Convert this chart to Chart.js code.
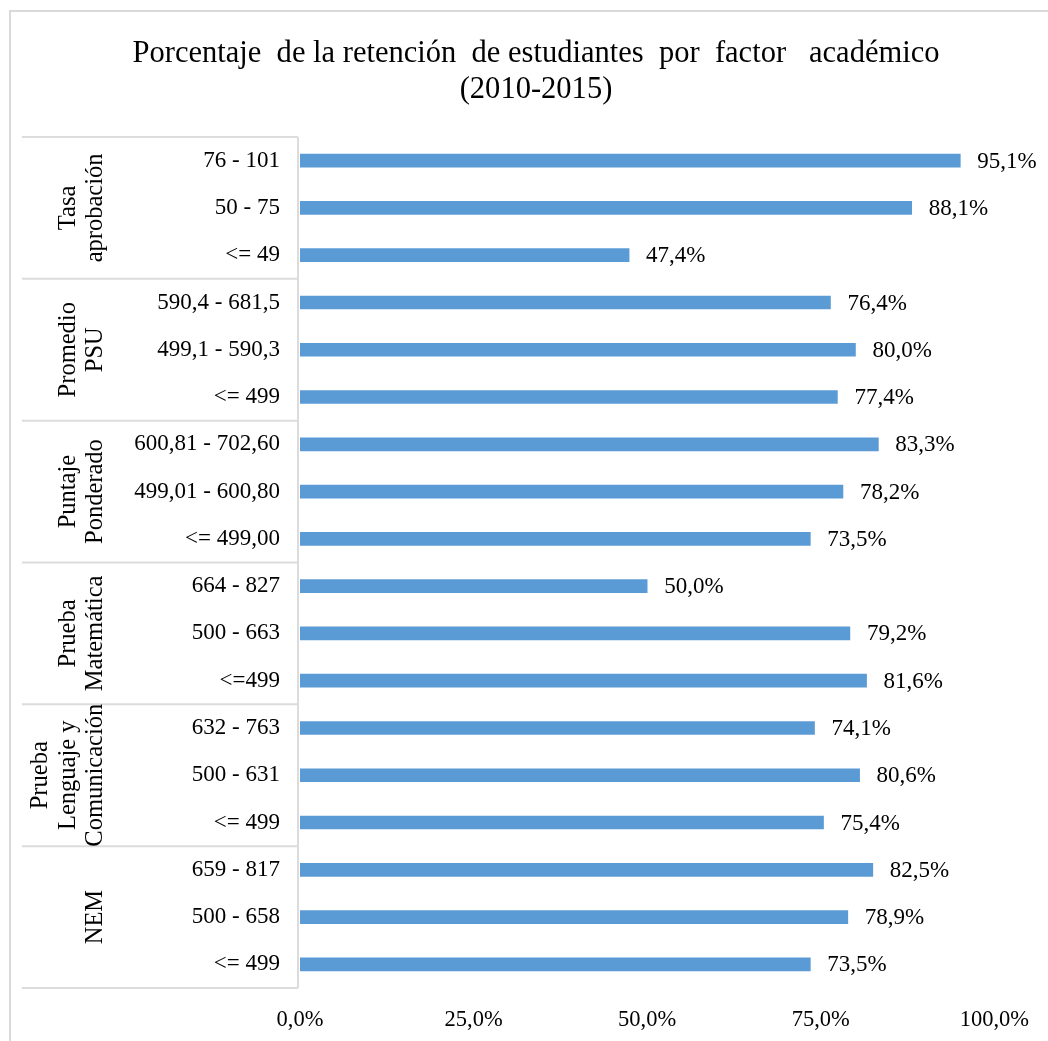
<!DOCTYPE html>
<html>
<head>
<meta charset="utf-8">
<script src="https://cdn.jsdelivr.net/npm/chart.js@4/dist/chart.umd.min.js"></script>
<style>
  html, body { margin: 0; padding: 0; background: #ffffff; }
  #wrap { width: 1048px; height: 1041px; position: relative; }
</style>
</head>
<body>
<div id="wrap"><canvas id="c" width="1048" height="1041"></canvas></div>
<script>
// ---- Data ----
const titleLines = ["Porcentaje  de la retención  de estudiantes  por  factor   académico", "(2010-2015)"];
const categories = ["76 - 101", "50 - 75", "<= 49",
                    "590,4 - 681,5", "499,1 - 590,3", "<= 499",
                    "600,81 - 702,60", "499,01 - 600,80", "<= 499,00",
                    "664 - 827", "500 - 663", "<=499",
                    "632 - 763", "500 - 631", "<= 499",
                    "659 - 817", "500 - 658", "<= 499"];
const values = [95.1, 88.1, 47.4,
                76.4, 80.0, 77.4,
                83.3, 78.2, 73.5,
                50.0, 79.2, 81.6,
                74.1, 80.6, 75.4,
                82.5, 78.9, 73.5];
const groupLabels = [["Tasa", "aprobación"], ["Promedio", "PSU"], ["Puntaje", "Ponderado"],
                     ["Prueba", "Matemática"], ["Prueba", "Lenguaje y", "Comunicación"], ["NEM"]];
const groupSizes = [3, 3, 3, 3, 3, 3];
const xTicks = [0, 25, 50, 75, 100];

const SERIF = '"Liberation Serif", "Times New Roman", serif';
const fmt = v => v.toFixed(1).replace('.', ',') + '%';

const decorPlugin = {
  id: 'decor',
  beforeDraw(chart) {
    const ctx = chart.ctx;
    ctx.save();
    ctx.fillStyle = '#ffffff';
    ctx.fillRect(0, 0, chart.width, chart.height);
    // outer chart border
    ctx.strokeStyle = '#d9d9d9';
    ctx.lineWidth = 2;
    ctx.beginPath();
    ctx.moveTo(10, chart.height);
    ctx.lineTo(10, 11);
    ctx.lineTo(chart.width, 11);
    ctx.stroke();
    // title
    ctx.fillStyle = '#000000';
    ctx.font = '32px ' + SERIF;
    ctx.textAlign = 'center';
    ctx.textBaseline = 'alphabetic';
    const w1 = ctx.measureText(titleLines[0]).width;
    const sx = Math.min(1, 807 / w1);
    const baselines = [62, 98];
    titleLines.forEach((t, i) => {
      ctx.save();
      ctx.translate(536, baselines[i]);
      ctx.scale(sx, 1);
      ctx.fillText(t, 0, 0);
      ctx.restore();
    });
    ctx.restore();
  },
  afterDraw(chart) {
    const ctx = chart.ctx;
    const y = chart.scales.y;
    const area = chart.chartArea;
    const half = (y.getPixelForValue(1) - y.getPixelForValue(0)) / 2;
    ctx.save();
    ctx.strokeStyle = '#dcdcdc';
    ctx.lineWidth = 2;
    const lineLeft = 22, lineRight = area.left - 2;
    // vertical divider
    ctx.beginPath();
    ctx.moveTo(lineRight, area.top);
    ctx.lineTo(lineRight, area.bottom);
    ctx.stroke();
    // horizontal group separators
    let start = 0;
    const bounds = [y.getPixelForValue(0) - half];
    groupSizes.forEach(n => { start += n; bounds.push(y.getPixelForValue(start - 1) + half); });
    bounds.forEach(b => {
      ctx.beginPath();
      ctx.moveTo(lineLeft, b);
      ctx.lineTo(lineRight, b);
      ctx.stroke();
    });
    // group labels (rotated)
    ctx.fillStyle = '#000000';
    ctx.font = '24.5px ' + SERIF;
    ctx.textAlign = 'center';
    ctx.textBaseline = 'alphabetic';
    groupLabels.forEach((lines, g) => {
      const cy = (bounds[g] + bounds[g + 1]) / 2;
      const n = lines.length;
      lines.forEach((t, i) => {
        const bx = 102 - (n - 1 - i) * 27.5;
        ctx.save();
        ctx.translate(bx, cy);
        ctx.rotate(-Math.PI / 2);
        ctx.fillText(t, 0, 0);
        ctx.restore();
      });
    });
    // value labels
    ctx.font = '23px ' + SERIF;
    ctx.textAlign = 'left';
    ctx.textBaseline = 'middle';
    const meta = chart.getDatasetMeta(0);
    meta.data.forEach((bar, i) => {
      ctx.fillText(fmt(values[i]), bar.x + 17, bar.y + 1);
    });
    ctx.restore();
  }
};

new Chart(document.getElementById('c'), {
  type: 'bar',
  data: {
    labels: categories,
    datasets: [{
      data: values,
      backgroundColor: '#5b9bd5',
      borderWidth: 0,
      barThickness: 13
    }]
  },
  options: {
    indexAxis: 'y',
    responsive: false,
    animation: false,
    devicePixelRatio: 1,
    layout: { padding: { top: 137, right: 53, bottom: 0, left: 0 } },
    plugins: {
      legend: { display: false },
      title: { display: false },
      tooltip: { enabled: false }
    },
    scales: {
      x: {
        min: 0, max: 100,
        afterBuildTicks: s => { s.ticks = xTicks.map(v => ({ value: v })); },
        afterFit: s => { s.height = 53; },
        grid: { display: false, drawTicks: false },
        border: { display: false },
        ticks: {
          padding: 19,
          color: '#000000',
          font: { family: SERIF, size: 22.5 },
          callback: v => fmt(v),
          maxRotation: 0
        }
      },
      y: {
        afterFit: s => { s.width = 300; },
        grid: { display: false, drawTicks: false },
        border: { display: false },
        ticks: {
          padding: 20,
          color: '#000000',
          autoSkip: false,
          font: { family: SERIF, size: 23 }
        }
      }
    }
  },
  plugins: [decorPlugin]
});
</script>
</body>
</html>
